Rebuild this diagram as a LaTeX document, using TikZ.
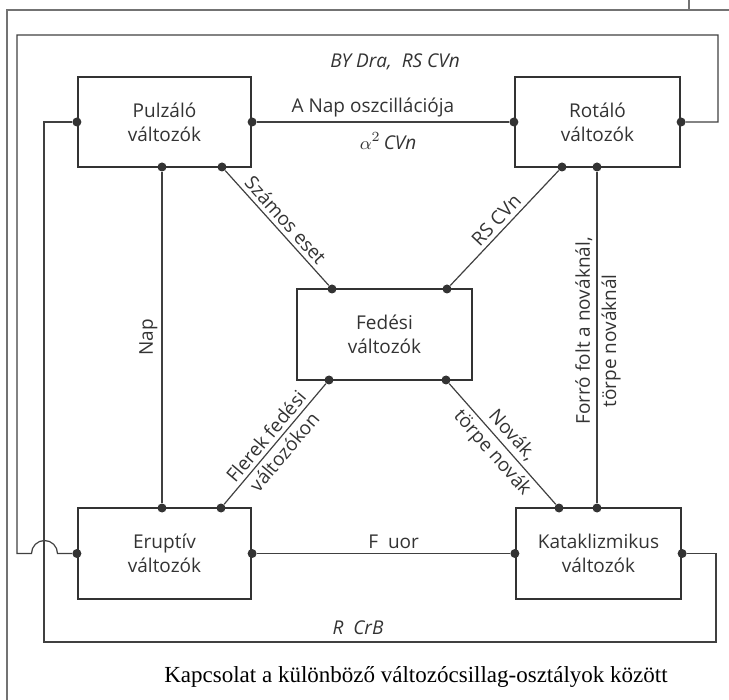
\documentclass[tikz,border=0pt]{standalone}
\usepackage{fontspec}
\setmainfont{Liberation Serif}
\setsansfont{Open Sans}
\usetikzlibrary{positioning}
\tikzset{valt/.style={draw=black!80, line width=1.1pt, minimum height=45pt, align=center,
  font=\sffamily\fontsize{9.5}{12}\selectfont, text=black!80},
pont/.style={circle, fill=black!80, inner sep=0pt, minimum size=4.5pt},
kapocs/.style={draw=black!75, line width=0.6pt},
cimke/.style={font=\sffamily\fontsize{9.5}{12}\selectfont, text=black!80, align=center, inner sep=2pt}
}

\begin{document}
\begin{tikzpicture}[x=0.5pt, y=-0.5pt]
\useasboundingbox (0,0) rectangle (729,700);
\draw[black!55, line width=0.8pt] (7,700) -- (7,10) -- (729,10) (689,0) -- (689,10);

\node[valt, minimum width=86.5pt] (pul) at (164.5,122) {Pulzáló\\változók};
\node[valt, minimum width=82.5pt] (rot) at (597.5,122) {Rotáló\\változók};
\node[valt, minimum width=87.5pt, minimum height=45.5pt] (fed) at (384.5,334.5) {Fedési\\változók};
\node[valt, minimum width=86.5pt, minimum height=45.5pt] (eru) at (164.5,553.5) {Eruptív\\változók};
\node[valt, minimum width=82.5pt, minimum height=45.5pt] (kat) at (598.5,553.5) {Kataklizmikus\\változók};

\node[pont] (pul-w) at (pul.west) {};
\node[pont] (pul-e) at (pul.east) {};
\node[pont] (pul-s1) at (162,167) {};
\node[pont] (pul-s2) at (222,167) {};
\node[pont] (rot-w) at (rot.west) {};
\node[pont] (rot-e) at (rot.east) {};
\node[pont] (rot-s1) at (562,167) {};
\node[pont] (rot-s2) at (597,167) {};
\node[pont] (fed-n1) at (332,289) {};
\node[pont] (fed-n2) at (447,289) {};
\node[pont] (fed-s1) at (329,380) {};
\node[pont] (fed-s2) at (446,380) {};
\node[pont] (eru-w) at (eru.west) {};
\node[pont] (eru-e) at (eru.east) {};
\node[pont] (eru-n1) at (162,508) {};
\node[pont] (eru-n2) at (221,508) {};
\node[pont] (kat-w) at (kat.west) {};
\node[pont] (kat-e) at (kat.east) {};
\node[pont] (kat-n1) at (559,508) {};
\node[pont] (kat-n2) at (597,508) {};

\draw[kapocs] (pul-e) -- node[cimke, above, pos=0.46] {A\ Nap\ oszcillációja}
                         node[cimke, below=3pt, pos=0.52] {$\alpha^2$\,\textit{CVn}} (rot-w);
\draw[kapocs] (eru-e) -- node[cimke, above, pos=0.54] {F\ \ uor} (kat-w);
\draw[kapocs] (eru-n1) -- node[cimke, sloped, above] {Nap} (pul-s1);
\draw[kapocs] (kat-n2) -- node[cimke, sloped, above, pos=0.52] {Forró\ folt\ a\ nováknál,}
                          node[cimke, sloped, below, pos=0.49] {törpe\ nováknál} (rot-s2);
\draw[kapocs] (pul-s2) -- node[cimke, sloped, above] {Számos eset} (fed-n1);
\draw[kapocs] (fed-n2) -- node[cimke, sloped, above] {RS CVn} (rot-s1);
\draw[kapocs] (eru-n2) -- node[cimke, sloped, above] {Flerek fedési}
                          node[cimke, sloped, below] {változókon} (fed-s1);
\draw[kapocs] (fed-s2) -- node[cimke, sloped, above] {Novák,}
                          node[cimke, sloped, below] {törpe novák} (kat-n1);

\draw[kapocs] (rot-e) -| (718,35) -| (17,553.5) -- (31.5,553.5)
  arc[start angle=180, end angle=0, radius=6.5pt] -- (eru-w);
\draw[kapocs] (pul-w) -| (44,642) -| (716,553.5) -- (kat-e);

\node[cimke, font=\sffamily\itshape\fontsize{9.5}{12}\selectfont] (bydra) at (395,62) {BY\ Dra,\ \ RS\ CVn};
\node[cimke, font=\sffamily\itshape\fontsize{9.5}{12}\selectfont] (rcrb) at (358,628) {R\ \ CrB};
\node[font=\rmfamily\fontsize{11.5}{14}\selectfont] (felirat) at (416,677) {Kapcsolat a különböző változócsillag-osztályok között};
\end{tikzpicture}
\end{document}
